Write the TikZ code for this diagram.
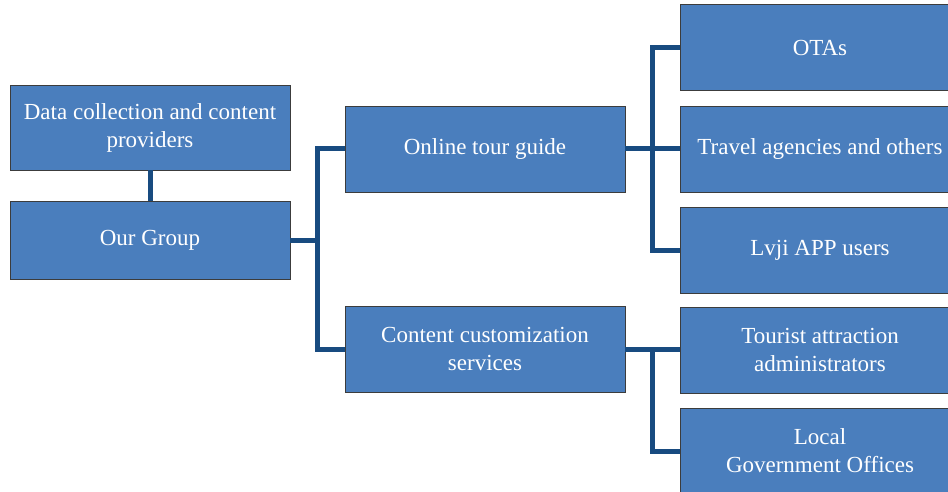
\documentclass[tikz,border=0pt]{standalone}
\usepackage{fontspec}
\setmainfont{Liberation Serif}
\definecolor{boxfill}{RGB}{74,126,189}
\definecolor{boxline}{RGB}{60,60,60}
\definecolor{conn}{RGB}{24,75,128}
\begin{document}
\begin{tikzpicture}[x=1pt,y=-1pt,
  orgbox/.style={draw=boxline, line width=0.9pt, fill=boxfill, text=white,
    minimum width=280pt, minimum height=86pt, align=center, inner sep=2pt,
    font=\fontsize{23}{28}\selectfont},
  link/.style={draw=conn, line width=5pt}]
\clip (0,0) rectangle (948,492);
\fill[white] (0,0) rectangle (948,492);
\node[orgbox, minimum height=85pt] (dc) at (150,127.5) {Data collection and content\\providers};
\node[orgbox, minimum height=78pt] (og) at (150,240) {Our Group};
\node[orgbox] (otg) at (485,149) {Online tour guide};
\node[orgbox] (ccs) at (485,349) {Content customization\\services};
\node[orgbox] (ota) at (820,47.5) {OTAs};
\node[orgbox] (tra) at (820,149) {Travel agencies and others};
\node[orgbox] (lvj) at (820,250) {Lvji APP users};
\node[orgbox] (tou) at (820,350) {Tourist attraction\\administrators};
\node[orgbox] (loc) at (820,451) {Local\\Government Offices};
\coordinate (j1) at (317,240);
\coordinate (j2) at (652,149);
\coordinate (j3) at (652,349);
\draw[link] (dc.south) -- (og.north);
\draw[link] (og.east) -- (j1);
\draw[link] (otg.west) -| (j1) |- (ccs.west);
\draw[link] (otg.east) -- (tra.west);
\draw[link] (ota.west) -| (j2) |- (lvj.west);
\draw[link] (ccs.east) -- (ccs.east -| tou.west);
\draw[link] (j3) |- (loc.west);
\end{tikzpicture}
\end{document}
